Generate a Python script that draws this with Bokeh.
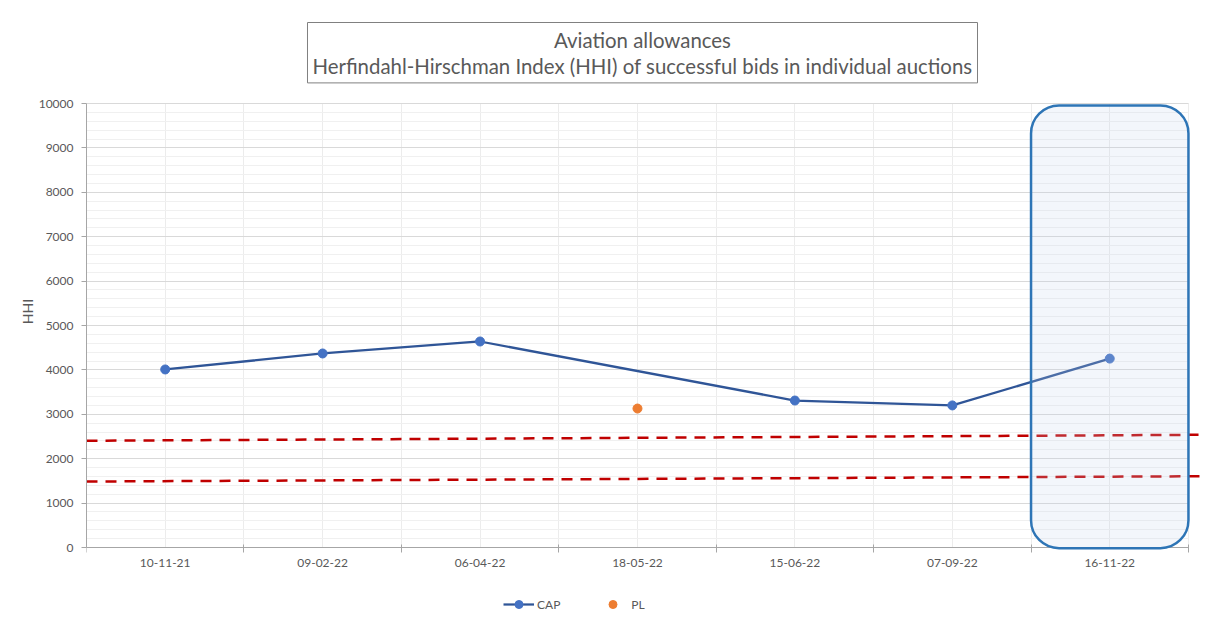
from bokeh.plotting import figure
from bokeh.models import (FixedTicker, Legend, LegendItem, BoxAnnotation, Label, Range1d)
from bokeh.embed import file_html
from bokeh.resources import INLINE

# ---- data ----
dates = ["10-11-21", "09-02-22", "06-04-22", "18-05-22", "15-06-22", "07-09-22", "16-11-22"]
cap_dates = ["10-11-21", "09-02-22", "06-04-22", "15-06-22", "07-09-22", "16-11-22"]
cap_values = [4010, 4370, 4640, 3310, 3200, 4255]
pl_dates = ["18-05-22"]
pl_values = [3130]
y_ticks = list(range(0, 10001, 1000))
# threshold guide lines (values at left and right end)
upper_line = [2404, 2538]
lower_line = [1486, 1606]
highlight_date = "16-11-22"
title_text = "Aviation allowances\nHerfindahl-Hirschman Index (HHI) of successful bids in individual auctions"

FONT = "Lato"
GREY = "#595959"
N = len(dates)
YMAX = 10000

def cx(d):
    return dates.index(d) + 0.5

# frame spans the whole canvas right of the y axis; x axis pinned to data 0
p = figure(width=1210, height=622, output_backend="svg", toolbar_location=None,
           x_range=Range1d(0, 7.14), y_range=Range1d(-1689, 12320),
           min_border_left=86, min_border_right=0, min_border_top=0, min_border_bottom=0)
p.outline_line_color = None
p.background_fill_color = "white"
p.border_fill_color = "white"

# x axis
p.xaxis.fixed_location = 0
p.xaxis.bounds = (0, N)
p.xaxis.ticker = FixedTicker(ticks=[i + 0.5 for i in range(N)],
                             minor_ticks=list(range(N + 1)))
p.xaxis.major_label_overrides = {i + 0.5: d for i, d in enumerate(dates)}
p.xaxis.major_tick_out = 0
p.xaxis.major_tick_in = 0
p.xaxis.minor_tick_out = 5
p.xaxis.minor_tick_in = 3
p.xaxis.minor_tick_line_color = "#a6a6a6"
p.xaxis.axis_line_color = "#a6a6a6"
p.xaxis.major_label_text_font = FONT
p.xaxis.major_label_text_font_size = "12px"
p.xaxis.major_label_text_color = GREY
p.xaxis.major_label_standoff = 6

# y axis
yt = FixedTicker(ticks=y_ticks, minor_ticks=list(range(0, YMAX + 1, 200)))
p.yaxis.bounds = (0, YMAX)
p.yaxis.ticker = yt
p.yaxis.major_tick_out = 5
p.yaxis.major_tick_in = 0
p.yaxis.minor_tick_out = 0
p.yaxis.minor_tick_in = 0
p.yaxis.major_tick_line_color = "#a6a6a6"
p.yaxis.axis_line_color = "#a6a6a6"
p.yaxis.major_label_text_font = FONT
p.yaxis.major_label_text_font_size = "12px"
p.yaxis.major_label_text_color = GREY
p.yaxis.major_label_standoff = 8
p.yaxis.axis_label = "HHI"
p.yaxis.axis_label_text_font = FONT
p.yaxis.axis_label_text_font_size = "14px"
p.yaxis.axis_label_text_font_style = "normal"
p.yaxis.axis_label_text_color = GREY
p.yaxis.axis_label_standoff = 0

# grids
p.xgrid.ticker = FixedTicker(ticks=[i * 0.5 for i in range(2 * N + 1)])
p.xgrid.grid_line_color = "#ececec"
p.ygrid.ticker = yt
p.ygrid.grid_line_color = "#d9d9d9"
p.ygrid.minor_grid_line_color = "#f0f0f0"
try:
    p.xgrid.cross_bounds = (0, YMAX)
    p.ygrid.cross_bounds = (0, N)
except Exception:
    p.xgrid.visible = False
    p.ygrid.visible = False
    vx = [i * 0.5 for i in range(2 * N + 1)]
    p.segment(vx, [0] * len(vx), vx, [YMAX] * len(vx), line_color="#ececec")
    my = list(range(0, YMAX + 1, 200))
    p.segment([0] * len(my), my, [N] * len(my), my, line_color="#f0f0f0")
    p.segment([0] * len(y_ticks), y_ticks, [N] * len(y_ticks), y_ticks, line_color="#d9d9d9")

# threshold dashed lines
p.line([0, 7.064], upper_line, line_color="#c00000", line_width=2.5, line_dash="11 8")
p.line([0, 7.115], lower_line, line_color="#c00000", line_width=2.5, line_dash="11 8")

# series
xs = [cx(d) for d in cap_dates]
cap_line = p.line(xs, cap_values, line_color="#2f5597", line_width=2.25)
cap_pts = p.scatter(xs, cap_values, size=9, fill_color="#4472c4", line_color="#4472c4")
pl_pts = p.scatter([cx(d) for d in pl_dates], pl_values, size=9,
                   fill_color="#ed7d31", line_color="#ed7d31")

# highlight box
hi = dates.index(highlight_date)
box = BoxAnnotation(left=hi, right=hi + 1, bottom=-15, top=9955,
                    fill_color="#c5d3ec", fill_alpha=0.2,
                    line_color="#2e75b6", line_alpha=1.0, line_width=2.5, border_radius=28)
p.add_layout(box)

# title box
title = Label(x=556, y=600, x_units="screen", y_units="screen",
              text=title_text, text_align="center", text_baseline="top",
              text_font=FONT, text_font_size="20.4px", text_color=GREY,
              text_line_height=1.1,
              border_line_color="#808080", border_line_width=1,
              background_fill_color="white", padding=5)
p.add_layout(title)

legend = Legend(items=[LegendItem(label="CAP", renderers=[cap_line, cap_pts]),
                       LegendItem(label="PL", renderers=[pl_pts])],
                orientation="horizontal", location=(417, 8))
legend.border_line_color = None
legend.background_fill_alpha = 0
legend.label_text_font = FONT
legend.label_text_font_size = "12px"
legend.label_text_color = GREY
legend.glyph_width = 31
legend.label_standoff = 3
legend.spacing = 37
legend.margin = 0
legend.padding = 5
p.add_layout(legend)

open("out.html", "w").write(file_html(p, INLINE))
